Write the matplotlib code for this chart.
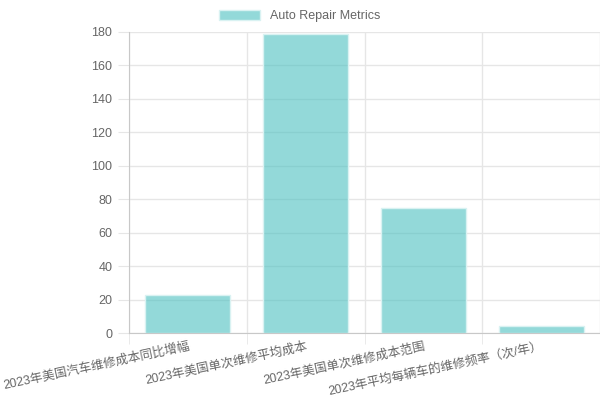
import matplotlib
matplotlib.use("Agg")
import matplotlib.pyplot as plt
import numpy as np

plt.rcParams["font.family"] = ["Liberation Sans", "Noto Sans CJK SC", "DejaVu Sans"]

categories = [
    "2023年美国汽车维修成本同比增幅",
    "2023年美国单次维修平均成本",
    "2023年美国单次维修成本范围",
    "2023年平均每辆车的维修频率（次/年）",
]
values = [23, 179, 75, 4]
series_name = "Auto Repair Metrics"
y_ticks = [0, 20, 40, 60, 80, 100, 120, 140, 160, 180]

fill = (75 / 255, 192 / 255, 192 / 255, 0.6)
edge = "#d9f2f2"
grid_c = "#e6e6e6"
axis_c = "#c8c8c8"
text_c = "#666666"

fig = plt.figure(figsize=(6, 4), dpi=100)
ax = fig.add_axes([129 / 600, 1 - 333 / 400, 471 / 600, 301 / 400])

x = np.arange(len(categories))
ax.bar(x, values, width=0.72, color=fill, edgecolor=edge, linewidth=1,
       label=series_name, zorder=3)

ax.set_xlim(-0.5, len(categories) - 0.5)
ax.set_ylim(0, 180)
ax.set_yticks(y_ticks)
ax.set_xticks(x)
ax.set_xticklabels(categories, rotation=12, ha="right", rotation_mode="anchor")
ax.set_xticks(np.arange(len(categories) + 1) - 0.5, minor=True)

ax.tick_params(axis="x", which="major", length=0, pad=5, labelsize=9, labelcolor=text_c)
ax.tick_params(axis="x", which="minor", length=8, color=grid_c)
ax.tick_params(axis="y", length=8, color=grid_c, labelsize=9, labelcolor=text_c, pad=4)

ax.grid(axis="y", color=grid_c, linewidth=1, zorder=0)
ax.grid(axis="x", which="minor", color=grid_c, linewidth=1, zorder=0)

for s in ["top", "right"]:
    ax.spines[s].set_visible(False)
for s in ["left", "bottom"]:
    ax.spines[s].set_color(axis_c)

fig.legend(loc="upper center", bbox_to_anchor=(0.5, 1.0), frameon=False,
           fontsize=9, labelcolor=text_c, handlelength=3.3, handleheight=0.9,
           borderaxespad=0.4)

fig.savefig("out.png", dpi=100)
